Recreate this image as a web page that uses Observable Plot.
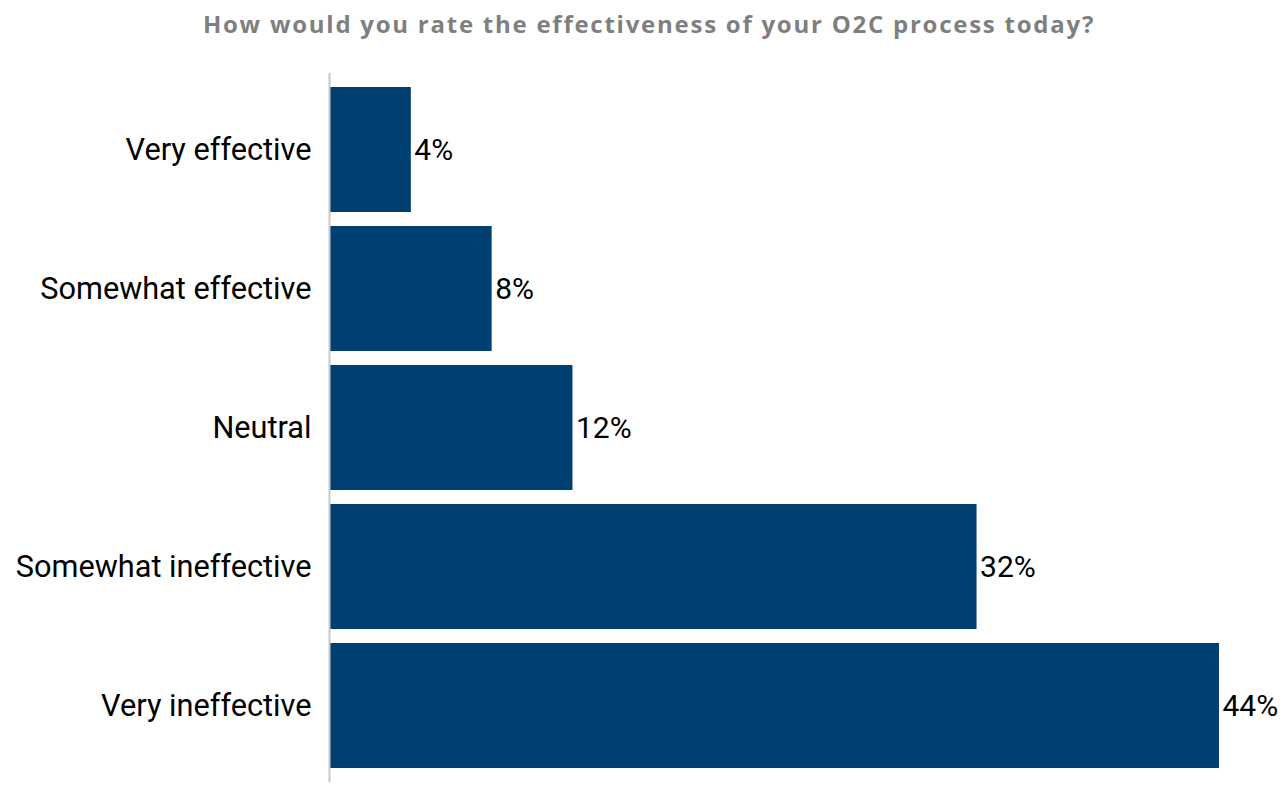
<!DOCTYPE html>
<html>
<head>
<meta charset="utf-8">
<script src="https://cdn.jsdelivr.net/npm/d3@7"></script>
<script src="https://cdn.jsdelivr.net/npm/@observablehq/plot@0.6"></script>
<style>
  html, body { margin: 0; padding: 0; background: #fff; }
  #title { height: 50px; line-height: 48px; text-align: center; font-family: "Open Sans", sans-serif; font-weight: 700; font-size: 24px; letter-spacing: 1.75px; color: #7f7f7f; padding-left: 15px; white-space: nowrap; }
  svg { display: block; }
</style>
</head>
<body>
<div id="title">How would you rate the effectiveness of your O2C process today?</div>
<div id="chart"></div>
<script>
const categories = ["Very effective", "Somewhat effective", "Neutral", "Somewhat ineffective", "Very ineffective"];
const values = [4, 8, 12, 32, 44];
const valueLabels = ["4%", "8%", "12%", "32%", "44%"];

const data = categories.map((c, i) => ({category: c, value: values[i], label: valueLabels[i]}));

const chart = Plot.plot({
  width: 1283,
  height: 736,
  marginLeft: 330,
  marginRight: 64,
  marginTop: 23,
  marginBottom: 4,
  style: {fontFamily: "Roboto, sans-serif", fontSize: "30px", color: "#000", background: "#fff"},
  x: {domain: [0, 44], axis: null},
  y: {domain: categories, padding: 0.1, label: null},
  marks: [
    Plot.barX(data, {x: "value", y: "category", fill: "#003f72"}),
    Plot.ruleX([0], {stroke: "#c8c8c8", strokeWidth: 2, dx: -1}),
    Plot.text(data, {x: "value", y: "category", text: "label", textAnchor: "start", dx: 3, fill: "#000", fontSize: 30}),
    Plot.axisY({tickSize: 0, tickPadding: 19, fontSize: 30.7, fill: "#000", label: null})
  ]
});
document.getElementById("chart").appendChild(chart);
</script>
</body>
</html>
